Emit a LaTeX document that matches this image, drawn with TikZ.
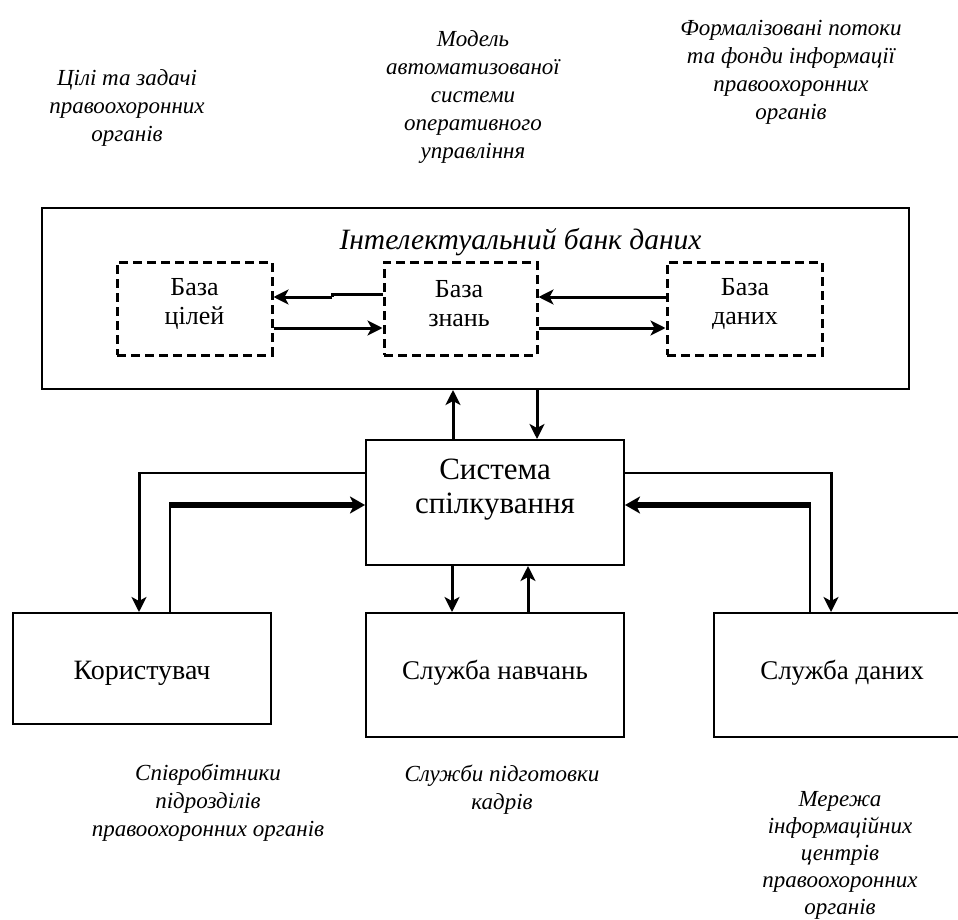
\documentclass[tikz,border=0pt]{standalone}
\usepackage{fontspec}
\setmainfont{Liberation Serif}
\usetikzlibrary{arrows.meta,calc}
\begin{document}
\begin{tikzpicture}[x=1pt,y=-1pt,
  sbox/.style={draw, line width=2pt, inner sep=0pt, rectangle},
  dbox/.style={draw, line width=3pt, dash pattern=on 9pt off 5pt, inner sep=0pt, rectangle},
  boxtext/.style 2 args={align=center, inner sep=0pt, font=\fontsize{#1}{#2}\selectfont},
  lbl/.style={align=center, inner sep=0pt, font=\fontsize{23}{28}\selectfont\itshape},
  arr/.style={line width=3pt, -{Stealth[length=15pt,width=15pt,inset=4pt]}},
  bigarr/.style={line width=6pt, -{Stealth[length=15pt,width=17pt,inset=4pt]}},
  thinl/.style={line width=1.6pt},
]
\useasboundingbox (0,0) rectangle (958,920);
\clip (0,0) rectangle (958,920);

% top labels
\node[lbl] (l1) at (127,108) {Цілі та задачі\\правоохоронних\\органів};
\node[lbl] (l2) at (473,97) {Модель\\автоматизованої\\системи\\оперативного\\управління};
\node[lbl] (l3) at (791,72) {Формалізовані потоки\\та фонди інформації\\правоохоронних\\органів};

% intelligent data bank
\node[sbox, minimum width=867pt, minimum height=181pt] (bank) at (475.5,298.5) {};
\node[lbl, font=\fontsize{29.5}{32}\selectfont\itshape] (title) at (520.5,242) {Інтелектуальний банк даних};

\node[dbox, minimum width=155pt, minimum height=93pt] (goals) at (194.5,308.5) {};
\node[dbox, minimum width=153pt, minimum height=93pt] (know) at (460.5,308.5) {};
\node[dbox, minimum width=155pt, minimum height=93pt] (data) at (744.5,308.5) {};
\node[boxtext={26}{29}] (tgoals) at (194.5,304) {База\\цілей};
\node[boxtext={26}{29}] (tknow) at (459,304) {База\\знань};
\node[boxtext={26}{29}] (tdata) at (745,304) {База\\даних};

% communication system
\node[sbox, minimum width=258pt, minimum height=125pt] (sys) at (495,502.5) {};
\node[boxtext={31}{34}] (tsys) at (495,490) {Система\\спілкування};

% bottom boxes
\node[sbox, minimum width=258pt, minimum height=111pt] (user) at (142,668.5) {};
\node[boxtext={28}{32}] (tuser) at (142,673) {Користувач};
\node[sbox, minimum width=258pt, minimum height=124pt] (train) at (495,675) {};
\node[boxtext={27}{31}] (ttrain) at (495,673) {Служба навчань};
\node[sbox, minimum width=256pt, minimum height=124pt] (dserv) at (842,675) {};
\node[boxtext={27}{31}] (tdserv) at (842,673) {Служба даних};

% bottom labels
\node[lbl] (l4) at (208,803) {Співробітники\\підрозділів\\правоохоронних органів};
\node[lbl] (l5) at (502,790) {Служби підготовки\\кадрів};
\node[lbl, font=\fontsize{23}{27}\selectfont\itshape] (l6) at (840,855) {Мережа\\інформаційних\\центрів\\правоохоронних\\органів};

% helper coordinates
\coordinate (ya) at (0,294);
\coordinate (yb) at (0,297);
\coordinate (yc) at (0,328);
\coordinate (jog) at (332,294);
\coordinate (jog2) at (332,297);
\coordinate (xa) at (453,0);
\coordinate (xb) at (537,0);
\coordinate (xc) at (452,0);
\coordinate (xd) at (528,0);
\coordinate (cl) at (139,473);
\coordinate (cl2) at (170,505);
\coordinate (cr) at (831,473);
\coordinate (cr2) at (810,505);

% arrows inside the bank
\draw[line width=3pt] (know.west |- ya) -- (jog) -- (jog2);
\draw[arr] (jog2) -- (goals.east |- yb);
\draw[arr] (goals.east |- yc) -- (know.west |- yc);
\draw[arr] (data.west |- yb) -- (know.east |- yb);
\draw[arr] (know.east |- yc) -- (data.west |- yc);

% bank <-> system
\draw[arr] (sys.north -| xa) -- (bank.south -| xa);
\draw[arr] (bank.south -| xb) -- (sys.north -| xb);

% system <-> training
\draw[arr] (sys.south -| xc) -- (train.north -| xc);
\draw[arr] (train.north -| xd) -- (sys.south -| xd);

% system <-> user
\draw[thinl] (sys.west |- cl) -- (cl);
\draw[arr] ([yshift=1pt]cl) -- (user.north -| cl);
\draw[thinl] (user.north -| cl2) -- (cl2);
\draw[bigarr] ([xshift=-1pt]cl2) -- (sys.west |- cl2);

% system <-> data service
\draw[thinl] (sys.east |- cr) -- (cr);
\draw[arr] ([yshift=1pt]cr) -- (dserv.north -| cr);
\draw[thinl] (dserv.north -| cr2) -- (cr2);
\draw[bigarr] ([xshift=1pt]cr2) -- (sys.east |- cr2);
\end{tikzpicture}
\end{document}
